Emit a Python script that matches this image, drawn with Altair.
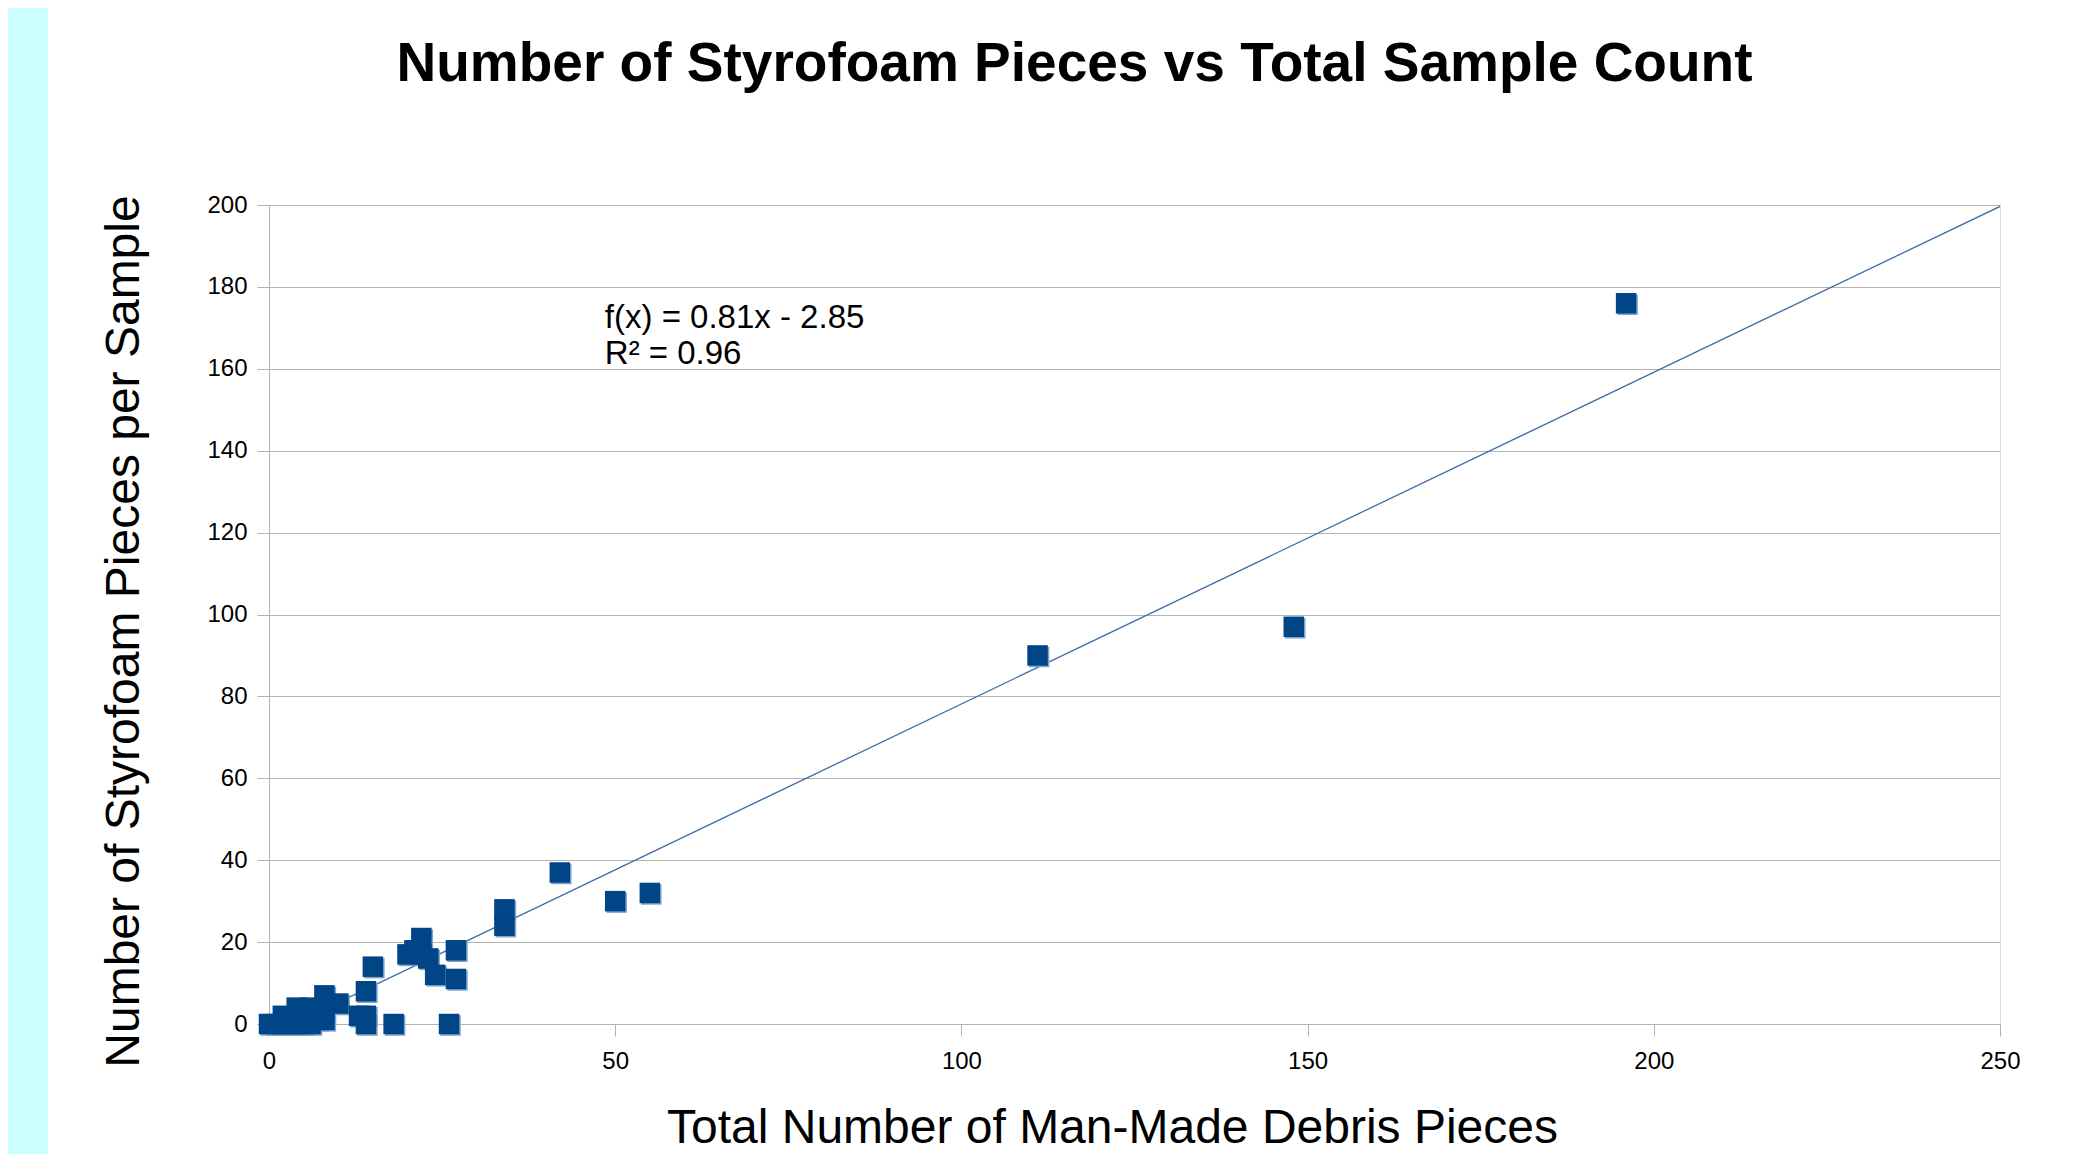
import altair as alt
import pandas as pd

# ---- data ----
total_pieces = [0, 1, 2, 2, 3, 4, 4, 5, 5, 6, 6, 7, 7, 8, 8, 8, 10, 13, 14, 14, 14, 15,
                18, 20, 21, 22, 22, 23, 24, 26, 27, 27, 34, 34, 42, 50, 55, 111, 148, 196]
styrofoam = [0, 0, 0, 2, 0, 0, 4, 0, 2, 0, 4, 1, 3, 1, 3, 7, 5, 2, 0, 2, 8, 14,
             0, 17, 18, 21, 17, 16, 12, 0, 18, 11, 28, 24, 37, 30, 32, 90, 97, 176]

x_ticks = [0, 50, 100, 150, 200, 250]
y_ticks = [0, 20, 40, 60, 80, 100, 120, 140, 160, 180, 200]

trend_slope = 0.81
trend_intercept = -2.85
trend_x = [0, 250]

eq_lines = ["f(x) = 0.81x - 2.85", "R² = 0.96"]
eq_x = [48.5, 48.5]
eq_y = [170.0, 161.2]

title_text = "Number of Styrofoam Pieces vs Total Sample Count"
x_title = "Total Number of Man-Made Debris Pieces"
y_title = "Number of Styrofoam Pieces per Sample"

FONT = "Liberation Sans"
GRID = "#b3b3b3"
BLUE = "#004586"

W, H = 1731, 819

pts = pd.DataFrame({"x": total_pieces, "y": styrofoam})
trend = pd.DataFrame({"x": trend_x})
eq = pd.DataFrame({"x": eq_x, "y": eq_y, "t": eq_lines})

xscale = alt.Scale(domain=[0, 250], nice=False, zero=True)
yscale = alt.Scale(domain=[0, 200], nice=False, zero=True)

xaxis = alt.Axis(values=x_ticks, grid=False, title=x_title, labelFont=FONT,
                 labelFontSize=24, labelColor="black", tickColor=GRID, tickSize=12,
                 domainColor=GRID, labelPadding=13, labelFlush=False,
                 titleFont=FONT, titleFontSize=48,
                 titleFontWeight="normal", titleColor="black", titleX=843, titleY=118,
                 titleAlign="center", titleBaseline="alphabetic")
yaxis = alt.Axis(values=y_ticks, grid=True, gridColor=GRID, title=y_title,
                 labelFont=FONT, labelFontSize=24, labelColor="black", tickColor=GRID,
                 tickSize=12, domainColor=GRID, labelPadding=10, labelFlush=False,
                 titleFont=FONT, titleFontSize=48, titleFontWeight="normal",
                 titleColor="black", titleX=-145, titleY=426, titleAngle=270,
                 titleAlign="center", titleBaseline="middle")

strip = alt.Chart(pd.DataFrame({"a": [0]})).mark_rect(color="#ccffff").encode(
    x=alt.value(-261), x2=alt.value(-221), y=alt.value(-197), y2=alt.value(949)
)

line = alt.Chart(trend).transform_calculate(
    y=f"{trend_slope} * datum.x + ({trend_intercept})"
).mark_line(color="#3a6ea5", strokeWidth=1.3, clip=True).encode(
    x=alt.X("x:Q", scale=xscale, axis=xaxis),
    y=alt.Y("y:Q", scale=yscale, axis=yaxis),
)

shadow = alt.Chart(pts).mark_square(size=420, color="#7fa3cf", opacity=1,
                                     xOffset=1.5, yOffset=1.5).encode(
    x=alt.X("x:Q", scale=xscale), y=alt.Y("y:Q", scale=yscale)
)
squares = alt.Chart(pts).mark_square(size=420, color=BLUE, opacity=1).encode(
    x=alt.X("x:Q", scale=xscale), y=alt.Y("y:Q", scale=yscale)
)

eq_text = alt.Chart(eq).mark_text(font=FONT, fontSize=33, align="left",
                                  baseline="alphabetic", color="black").encode(
    x=alt.X("x:Q", scale=xscale), y=alt.Y("y:Q", scale=yscale), text="t:N"
)

chart = alt.layer(strip, line, shadow, squares, eq_text).properties(
    width=W, height=H,
    title=alt.TitleParams(text=title_text, font=FONT, fontSize=55, fontWeight="bold",
                          color="black", anchor="middle", dx=-60, dy=128, offset=0,
                          baseline="alphabetic"),
    autosize=alt.AutoSizeParams(type="none"),
    padding={"left": 261, "top": 197, "right": 86, "bottom": 130},
).configure_view(stroke=GRID, strokeWidth=1).configure(background="white")

chart.save("out.html", embed_options={"renderer": "svg", "actions": False})
